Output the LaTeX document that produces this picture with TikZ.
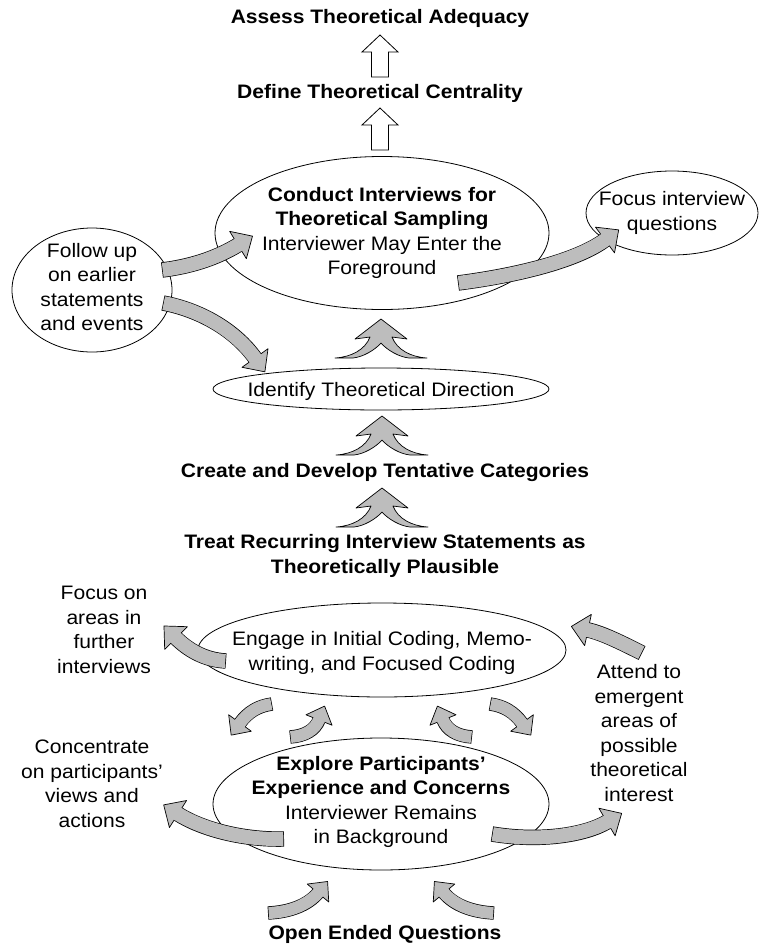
\documentclass[tikz,border=0pt]{standalone}
\usepackage{fontspec}
\setmainfont{Liberation Sans}[FakeStretch=1.08]
\usetikzlibrary{shapes.geometric,calc}
\definecolor{afill}{gray}{0.74}
\tikzset{
  txt/.style={font=\fontsize{19.5}{24.5}\selectfont, align=center, inner sep=0pt},
  ttl/.style={font=\fontsize{19.5}{24.5}\selectfont\bfseries, align=center, inner sep=0pt},
  oval/.style={ellipse, draw, line width=0.8pt, inner sep=0pt},
}
\def\bw{14pt}\def\bwo{15.4pt}\def\hw{16pt}\def\hl{17pt}
\newcommand\barrow[4]{%
  \draw[line width=\bwo, black, line cap=butt] (#1) .. controls (#2) and (#3) .. (#4);
  \filldraw[fill=afill, draw=black, line width=0.7pt, line join=round]
    ($(#4)!\hw!90:(#3)$) -- ($(#4)!\hl!180:(#3)$) -- ($(#4)!\hw!-90:(#3)$) -- cycle;
  \draw[line width=\bw, afill, shorten <=0.7pt, shorten >=-1.5pt] (#1) .. controls (#2) and (#3) .. (#4);
}
\newcommand\hollowup[3]{%
  \draw[fill=white, line width=0.8pt, line join=miter]
    ({#1-8.5},#3) -- ({#1-8.5},{#2+17}) -- ({#1-18},{#2+17}) -- (#1,#2) --
    ({#1+18},{#2+17}) -- ({#1+8.5},{#2+17}) -- ({#1+8.5},#3) -- cycle;}
\newcommand\treearrow[2]{%
  \begin{scope}[shift={(#1,#2)}]
  \filldraw[fill=afill, line width=0.7pt, line join=round]
    (0,-39) -- (26,-19) -- (11,-21) .. controls (16,-8) and (30,-1) .. (46,0)
    -- (28,0) .. controls (18,-1) and (6,-8) .. (0,-15)
    .. controls (-6,-8) and (-18,-1) .. (-28,0) -- (-46,0)
    .. controls (-30,-1) and (-16,-8) .. (-11,-21) -- (-26,-19) -- cycle;
  \end{scope}}
\begin{document}
\begin{tikzpicture}[x=1pt, y=-1pt]
\useasboundingbox (0,0) rectangle (759,945);

% titles
\node[ttl] (assess) at (380,18) {Assess Theoretical Adequacy};
\node[ttl] (define) at (380,93) {Define Theoretical Centrality};
\node[ttl] (create) at (385,472) {Create and Develop Tentative Categories};
\node[ttl] (treat) at (385,556) {Treat Recurring Interview Statements as\\Theoretically Plausible};
\node[ttl] (openq) at (385,934) {Open Ended Questions};

% ellipses
\node[oval, minimum width=334pt, minimum height=153pt] (conduct) at (382,233) {};
\node[txt] (conductT) at (382,233) {\textbf{Conduct Interviews for}\\\textbf{Theoretical Sampling}\\Interviewer May Enter the\\Foreground};
\node[oval, minimum width=172pt, minimum height=84pt] (focusq) at (672,213) {};
\node[txt] (focusqT) at (672,213) {Focus interview\\questions};
\node[oval, minimum width=160pt, minimum height=124pt] (follow) at (92,290) {};
\node[txt] (followT) at (92,287) {Follow up\\on earlier\\statements\\and events};
\node[oval, minimum width=336pt, minimum height=42pt] (identify) at (381,389) {};
\node[txt] (identifyT) at (381,391) {Identify Theoretical Direction};
\node[oval, minimum width=368pt, minimum height=94pt] (engage) at (382,650) {};
\node[txt] (engageT) at (382,653) {Engage in Initial Coding, Memo-\\writing, and Focused Coding};
\node[oval, minimum width=336pt, minimum height=132pt] (explore) at (381,804) {};
\node[txt] (exploreT) at (381,802) {\textbf{Explore Participants'}\\\textbf{Experience and Concerns}\\Interviewer Remains\\in Background};

% side texts
\node[txt] (areas) at (104,630) {Focus on\\areas in\\further\\interviews};
\node[txt] (concentrate) at (92,784) {Concentrate\\on participants'\\views and\\actions};
\node[txt] (attend) at (639,733) {Attend to\\emergent\\areas of\\possible\\theoretical\\interest};

% hollow arrows
\hollowup{380}{35}{77}
\hollowup{380}{108}{150}

% tree arrows
\treearrow{381}{358}
\treearrow{382}{455}
\treearrow{382}{527}

% big curved arrows
\barrow{162,270}{195,266}{220,256}{238,245}
\barrow{163,303}{200,310}{235,330}{255,358}
\barrow{458,283}{520,275}{578,260}{605,240}
\barrow{226,661}{205,660}{188,650}{176,638}
\barrow{642,653}{620,642}{602,633}{588,630}
\barrow{284,839}{240,840}{200,828}{178,814}
\barrow{492,834}{540,842}{585,835}{607,822}

% small arrows
\def\bw{12pt}\def\bwo{13.4pt}\def\hw{14pt}\def\hl{15pt}
\barrow{272,704}{258,706}{248,712}{240,723}
\barrow{290,737}{305,736}{315,730}{319,720}
\barrow{472,737}{457,736}{447,730}{443,720}
\barrow{490,704}{504,706}{514,712}{522,723}
\barrow{268,913}{290,912}{308,905}{318,893}
\barrow{494,913}{472,912}{454,905}{444,893}
\end{tikzpicture}
\end{document}
